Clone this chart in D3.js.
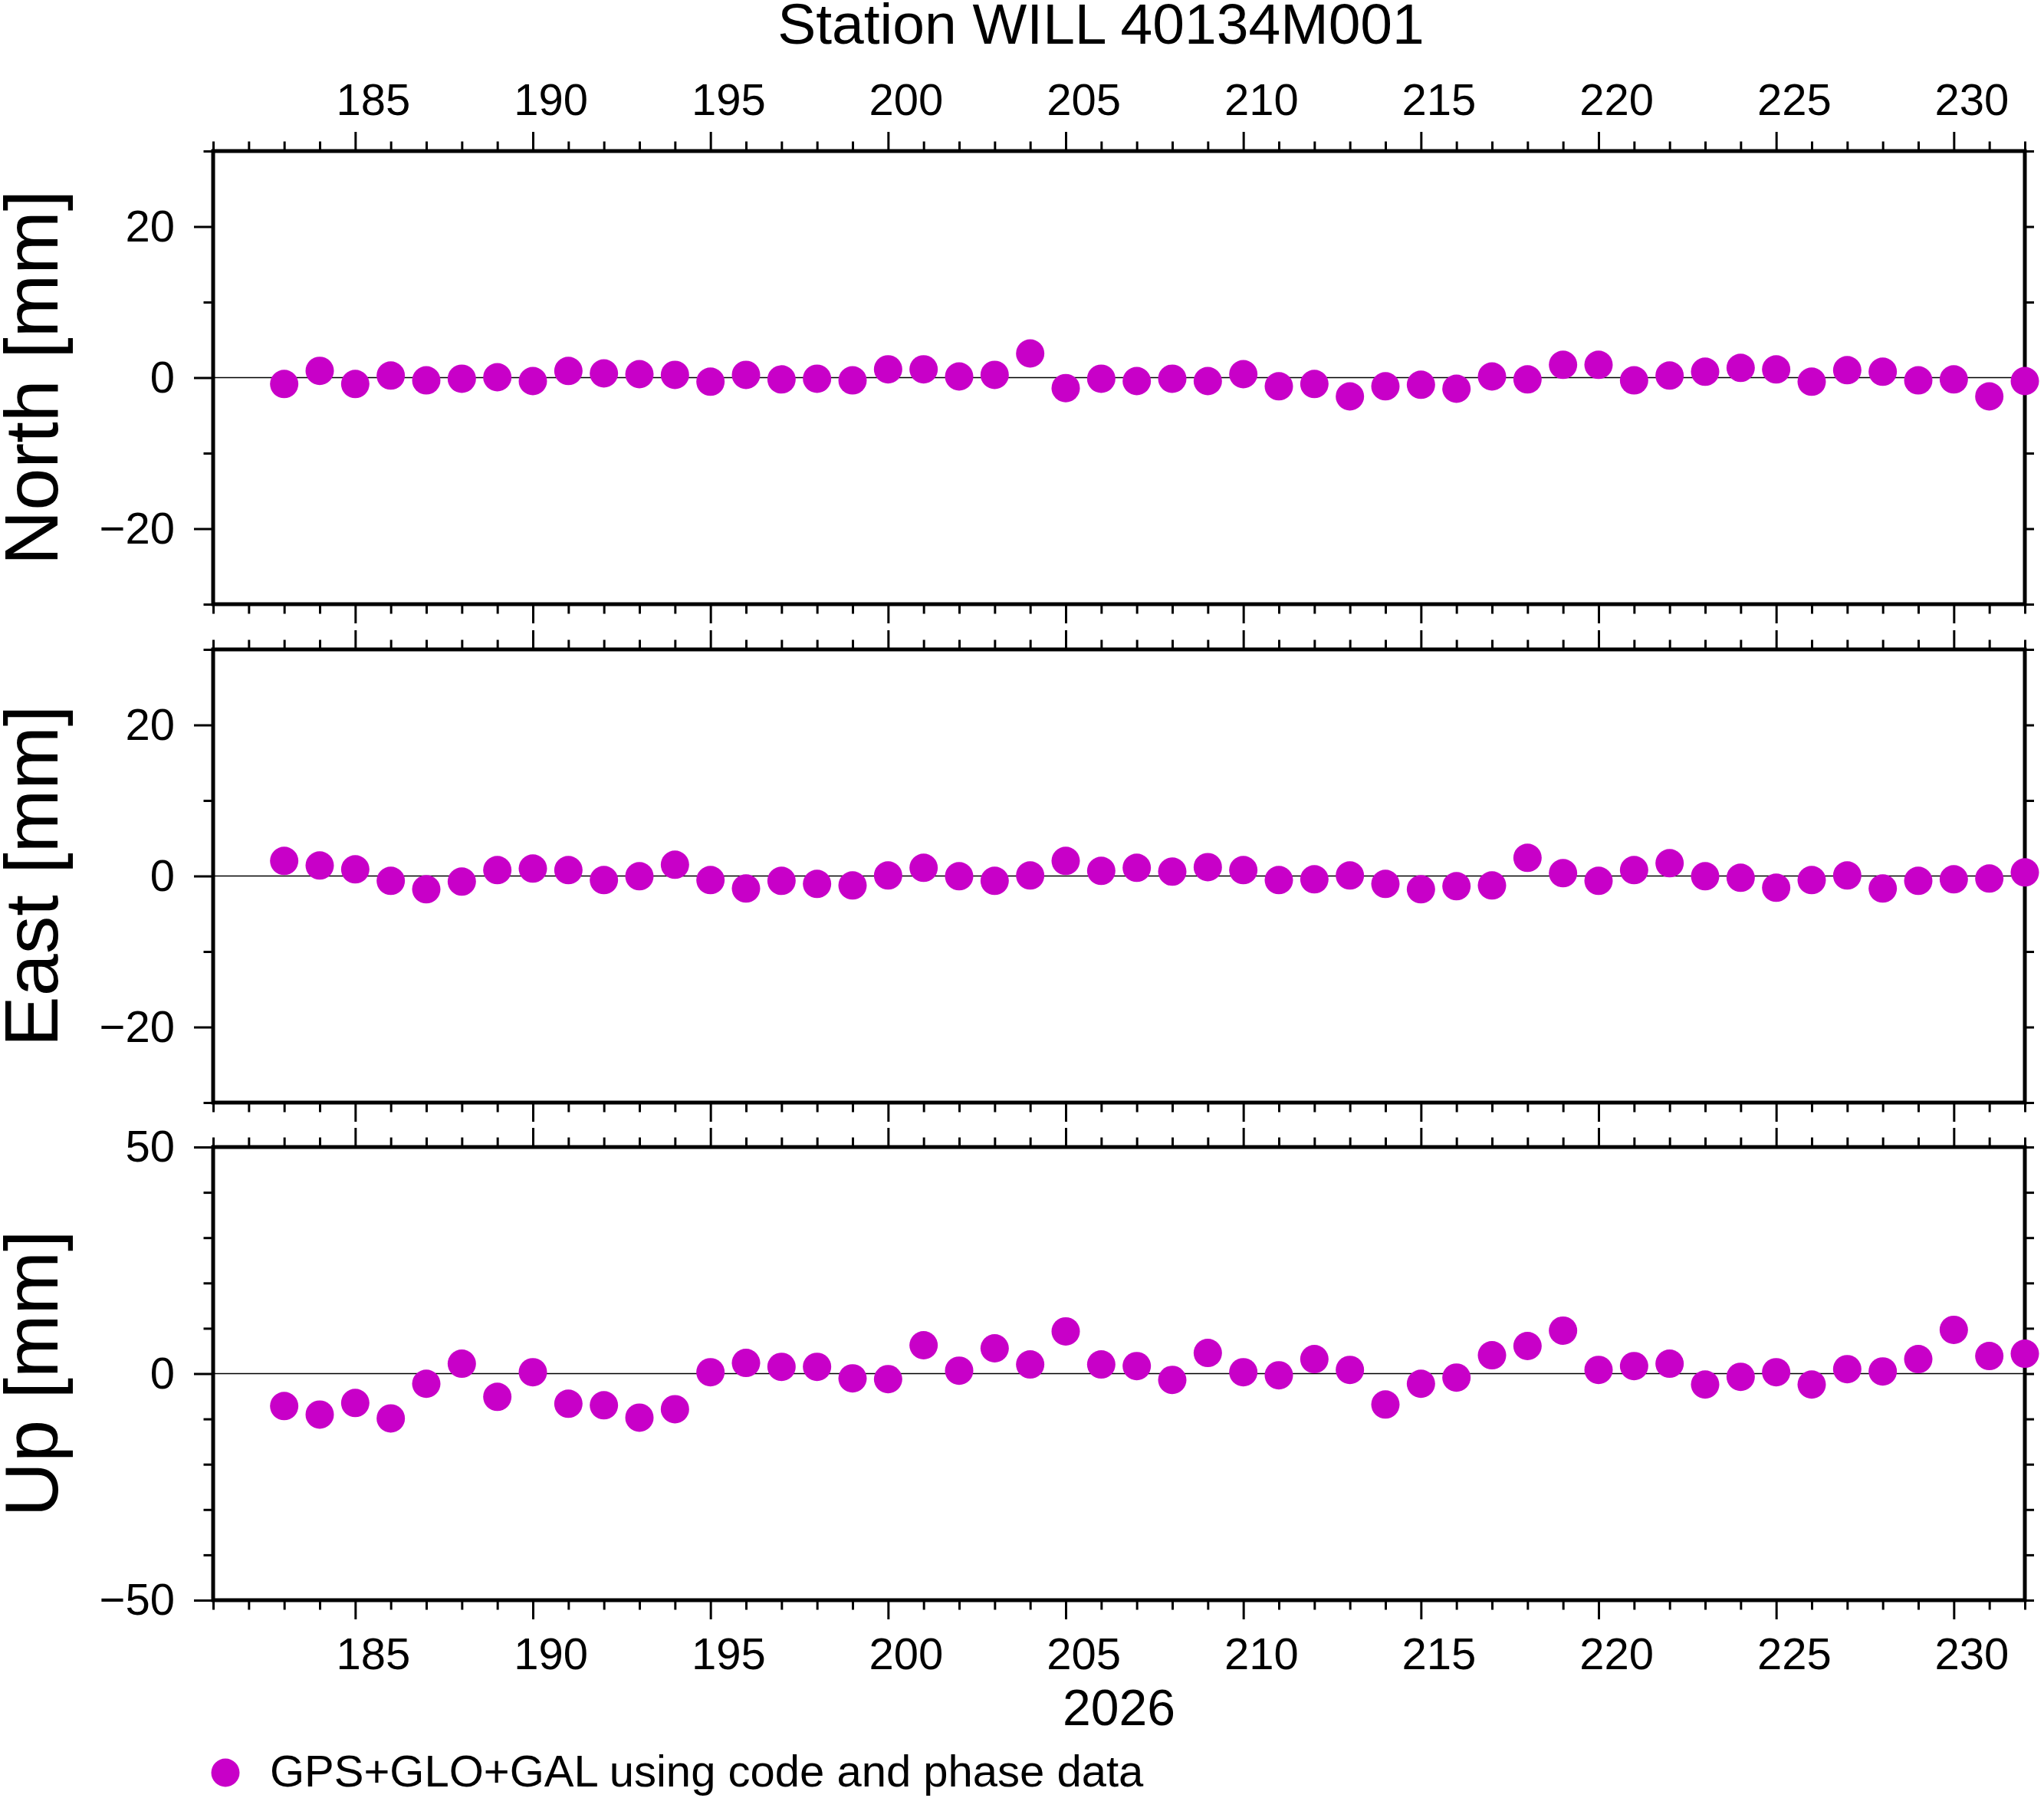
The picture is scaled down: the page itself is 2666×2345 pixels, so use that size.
<!DOCTYPE html>
<html>
<head>
<meta charset="utf-8">
<script src="https://cdn.jsdelivr.net/npm/d3@7"></script>
<style>
  html, body { margin: 0; padding: 0; background: #fff; }
  svg { display: block; font-family: "Liberation Sans", Arial, Helvetica, sans-serif; }
</style>
</head>
<body>
<div id="chart"></div>
<script>
// Station WILL 40134M001 - daily N/E/U residuals, GMT-like layout

// day of year 2026
const days = [183, 184, 185, 186, 187, 188, 189, 190, 191, 192,
              193, 194, 195, 196, 197, 198, 199, 200, 201, 202,
              203, 204, 205, 206, 207, 208, 209, 210, 211, 212,
              213, 214, 215, 216, 217, 218, 219, 220, 221, 222,
              223, 224, 225, 226, 227, 228, 229, 230, 231, 232];

const north = [-0.85, 0.90, -0.85, 0.27, -0.36, -0.14, 0.05, -0.46, 0.88, 0.56,
               0.46, 0.36, -0.54, 0.36, -0.24, -0.14, -0.36, 1.10, 1.10, 0.15,
               0.36, 3.20, -1.39, -0.14, -0.46, -0.14, -0.46, 0.46, -1.15, -0.85,
               -2.49, -1.15, -0.95, -1.47, 0.15, -0.24, 1.69, 1.69, -0.36, 0.27,
               0.78, 1.29, 1.08, -0.54, 0.98, 0.78, -0.36, -0.24, -2.49, -0.46];

const east = [2.00, 1.39, 0.88, -0.64, -1.76, -0.74, 0.78, 0.98, 0.78, -0.54,
              -0.03, 1.49, -0.54, -1.66, -0.64, -1.05, -1.25, 0.07, 1.08, -0.03,
              -0.64, 0.07, 2.00, 0.68, 1.08, 0.58, 1.18, 0.78, -0.54, -0.44,
              0.07, -1.05, -1.76, -1.35, -1.25, 2.40, 0.37, -0.64, 0.78, 1.69,
              -0.03, -0.24, -1.56, -0.54, 0.07, -1.66, -0.64, -0.44, -0.34, 0.47];

const up = [-7.17, -9.04, -6.49, -9.89, -2.24, 2.18, -5.13, 0.31, -6.66, -7.00,
            -9.72, -7.86, 0.31, 2.35, 1.50, 1.50, -1.05, -1.22, 6.26, 0.65,
            5.58, 2.01, 9.32, 2.01, 1.67, -1.39, 4.56, 0.31, -0.37, 3.20,
            0.82, -6.83, -2.24, -0.88, 4.05, 6.09, 9.49, 0.82, 1.67, 2.18,
            -2.41, -0.71, 0.31, -2.41, 0.99, 0.48, 3.20, 9.66, 3.88, 4.39];

// axis ticks
const dayDomain = [181, 232];
const majorDays = [185, 190, 195, 200, 205, 210, 215, 220, 225, 230];
const minorDays = [181, 182, 183, 184, 186, 187, 188, 189, 191, 192, 193, 194,
                   196, 197, 198, 199, 201, 202, 203, 204, 206, 207, 208, 209,
                   211, 212, 213, 214, 216, 217, 218, 219, 221, 222, 223, 224,
                   226, 227, 228, 229, 231, 232];

const neDomain = [-30, 30];
const neLabelTicks = [-20, 0, 20];
const neMinorTicks = [-30, -10, 10, 30];
const neAllTicks = [-30, -20, -10, 0, 10, 20, 30];

const upDomain = [-50, 50];
const upLabelTicks = [-50, 0, 50];
const upMinorTicks = [-40, -30, -20, -10, 10, 20, 30, 40];
const upAllTicks = [-50, -40, -30, -20, -10, 0, 10, 20, 30, 40, 50];

const panelNames = ["North [mm]", "East [mm]", "Up [mm]"];
const titleText = "Station WILL 40134M001";
const yearText = "2026";
const legendText = "GPS+GLO+GAL using code and phase data";

const W = 2666, H = 2345;
const left = 278, right = 2641;
const panelTops = [197, 847, 1496];
const panelH = 591;
const dotColor = "#c800c8";
const dotR = 18.5;

const svg = d3.select("#chart").append("svg")
    .attr("width", W)
    .attr("height", H)
    .attr("viewBox", `0 0 ${W} ${H}`)
    .style("background", "#fff");

const x = d3.scaleLinear().domain(dayDomain).range([left, right]);

const fmt = d => String(d).replace("-", "\u2212");

const panels = [
    { name: panelNames[0], values: north, domain: neDomain, labels: neLabelTicks, minor: neMinorTicks, all: neAllTicks },
    { name: panelNames[1], values: east,  domain: neDomain, labels: neLabelTicks, minor: neMinorTicks, all: neAllTicks },
    { name: panelNames[2], values: up,    domain: upDomain, labels: upLabelTicks, minor: upMinorTicks, all: upAllTicks }
];

function styleAxis(g, width, fontSize) {
    g.select(".domain").remove();
    g.selectAll("line").attr("stroke", "#000").attr("stroke-width", width);
    g.selectAll("text")
        .attr("fill", "#000")
        .attr("font-size", fontSize)
        .attr("font-family", "'Liberation Sans', Arial, sans-serif");
}

panels.forEach((p, i) => {
    const top = panelTops[i];
    const bottom = top + panelH;
    const y = d3.scaleLinear().domain(p.domain).range([bottom, top]);

    const g = svg.append("g");

    // zero line
    g.append("line")
        .attr("x1", left).attr("x2", right)
        .attr("y1", y(0)).attr("y2", y(0))
        .attr("stroke", "#000")
        .attr("stroke-width", 1.3);

    // left axis: major (labelled) and minor ticks
    g.append("g")
        .attr("transform", `translate(${left},0)`)
        .call(d3.axisLeft(y).tickValues(p.labels).tickSize(25).tickPadding(25).tickFormat(fmt))
        .call(a => styleAxis(a, 3, 58));
    g.append("g")
        .attr("transform", `translate(${left},0)`)
        .call(d3.axisLeft(y).tickValues(p.minor).tickSize(12.5).tickFormat(""))
        .call(a => styleAxis(a, 3, 58));

    // right axis: short ticks only
    g.append("g")
        .attr("transform", `translate(${right},0)`)
        .call(d3.axisRight(y).tickValues(p.all).tickSize(12).tickFormat(""))
        .call(a => styleAxis(a, 3, 58));

    // top and bottom time ticks
    [["top", top, d3.axisTop], ["bottom", bottom, d3.axisBottom]].forEach(([side, yy, axisFn]) => {
        g.append("g")
            .attr("transform", `translate(0,${yy})`)
            .call(axisFn(x).tickValues(majorDays).tickSize(25).tickFormat(""))
            .call(a => styleAxis(a, 3, 58));
        g.append("g")
            .attr("transform", `translate(0,${yy})`)
            .call(axisFn(x).tickValues(minorDays).tickSize(12.5).tickFormat(""))
            .call(a => styleAxis(a, 3, 58));
    });

    // frame
    g.append("rect")
        .attr("x", left).attr("y", top)
        .attr("width", right - left).attr("height", panelH)
        .attr("fill", "none")
        .attr("stroke", "#000")
        .attr("stroke-width", 5);

    // y label
    g.append("text")
        .attr("transform", `translate(75,${(top + bottom) / 2}) rotate(-90)`)
        .attr("text-anchor", "middle")
        .attr("font-size", 99)
        .attr("fill", "#000")
        .text(p.name);

    // points
    g.selectAll("circle.pt")
        .data(days.map((d, k) => ({ day: d, v: p.values[k] })))
        .join("circle")
        .attr("class", "pt")
        .attr("cx", d => x(d.day))
        .attr("cy", d => y(d.v))
        .attr("r", dotR)
        .attr("fill", dotColor);
});

// day labels, centred in the day interval (GMT style)
const labelPos = majorDays.map(d => d + 0.5);
svg.append("g")
    .attr("transform", `translate(0,${panelTops[0]})`)
    .call(d3.axisTop(x).tickValues(labelPos).tickSize(0).tickPadding(47).tickFormat(d => Math.floor(d)))
    .call(a => styleAxis(a, 0, 58));
svg.append("g")
    .attr("transform", `translate(0,${panelTops[2] + panelH})`)
    .call(d3.axisBottom(x).tickValues(labelPos).tickSize(0).tickPadding(49).tickFormat(d => Math.floor(d)))
    .call(a => styleAxis(a, 0, 58));

// year label
svg.append("text")
    .attr("x", (left + right) / 2)
    .attr("y", 2250)
    .attr("text-anchor", "middle")
    .attr("font-size", 66)
    .attr("fill", "#000")
    .text(yearText);

// title
svg.append("text")
    .attr("x", 1436)
    .attr("y", 57)
    .attr("text-anchor", "middle")
    .attr("font-size", 75)
    .attr("fill", "#000")
    .text(titleText);

// legend
svg.append("circle")
    .attr("cx", 294)
    .attr("cy", 2312)
    .attr("r", dotR)
    .attr("fill", dotColor);
svg.append("text")
    .attr("x", 352)
    .attr("y", 2330)
    .attr("font-size", 58)
    .attr("fill", "#000")
    .text(legendText);
</script>
</body>
</html>
